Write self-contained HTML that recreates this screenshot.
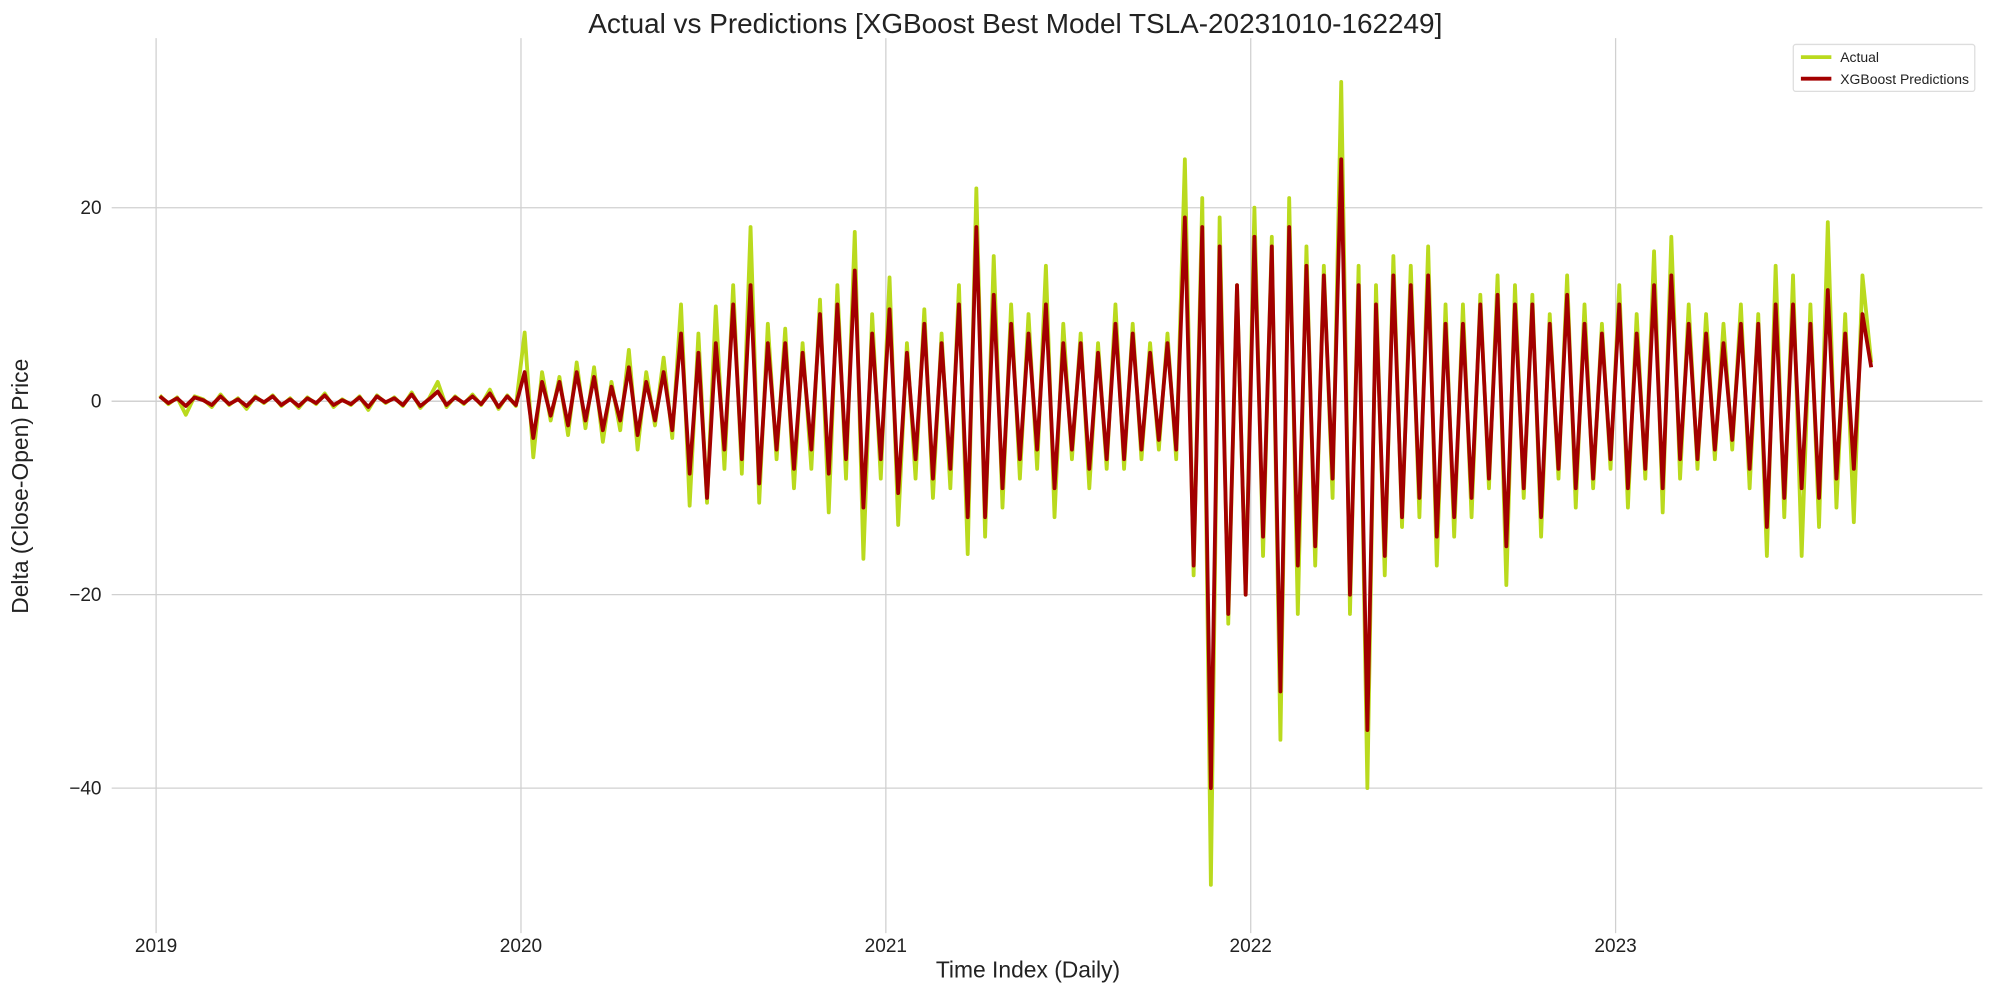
<!DOCTYPE html>
<html><head><meta charset="utf-8"><style>
html,body{margin:0;padding:0;background:#fff;}
svg{display:block;font-family:"Liberation Sans",sans-serif;}
</style></head><body>
<svg id="chart" width="1990" height="989" viewBox="0 0 1568 779" preserveAspectRatio="none">
<text x="800" y="26" font-size="22" text-anchor="middle" fill="#222">Actual vs Predictions [XGBoost Best Model TSLA-20231010-162249]</text>
<text x="810" y="770" font-size="18" text-anchor="middle" fill="#222">Time Index (Daily)</text>
<text transform="translate(22,383) rotate(-90)" font-size="18" text-anchor="middle" fill="#222">Delta (Close-Open) Price</text>
<g id="grid"></g><g id="ticks"></g><g id="series"></g>
<g>
<rect x="1413" y="35" width="143" height="37" fill="#fff" stroke="#ddd" rx="2"/>
<line x1="1419" y1="45" x2="1443" y2="45" stroke="#bada1e" stroke-width="3"/>
<text x="1450" y="49" font-size="11" fill="#222">Actual</text>
<line x1="1419" y1="62" x2="1443" y2="62" stroke="#a30000" stroke-width="3"/>
<text x="1450" y="66" font-size="11" fill="#222">XGBoost Predictions</text>
</g>
</svg>
<script>
const yearTicks=[2019,2020,2021,2022,2023];
const yTicks=[-40,-20,0,20];
const startYear=2019.01;
const pointsPerYear=42;
const actual=[0.6,-0.3,0.4,-1.4,0.5,0.2,-0.6,0.7,-0.4,0.3,-0.8,0.5,-0.2,0.6,-0.5,0.3,-0.7,0.4,-0.3,0.8,-0.6,0.2,-0.4,0.5,-0.9,0.6,-0.2,0.4,-0.5,0.9,-0.7,0.3,2.0,-0.6,0.5,-0.3,0.7,-0.4,1.2,-0.8,0.6,-0.5,
7.1,-5.8,3,-2,2.5,-3.5,4,-2.8,3.5,-4.2,2,-3,5.3,-5,3,-2.5,4.5,-3.8,10,-10.8,7,-10.5,9.8,-7,12,-7.5,18,-10.5,8,-6,7.5,-9,6,-7,10.5,-11.5,12,-8,17.5,-16.3,9,-8,
12.8,-12.8,6,-8,9.5,-10,7,-9,12,-15.8,22,-14,15,-11,10,-8,9,-7,14,-12,8,-6,7,-9,6,-7,10,-7,8,-6,6,-5,7,-6,25,-18,21,-50,19,-23,12,-20,
20,-16,17,-35,21,-22,16,-17,14,-10,33,-22,14,-40,12,-18,15,-13,14,-12,16,-17,10,-14,10,-12,11,-9,13,-19,12,-10,11,-14,9,-8,13,-11,10,-9,8,-7,
12,-11,9,-8,15.5,-11.5,17,-8,10,-7,9,-6,8,-5,10,-9,9,-16,14,-12,13,-16,10,-13,18.5,-11,9,-12.5,13,4];
const predicted=[0.5,-0.2,0.3,-0.5,0.4,0.1,-0.4,0.5,-0.3,0.2,-0.5,0.4,-0.1,0.5,-0.4,0.2,-0.5,0.3,-0.2,0.6,-0.4,0.1,-0.3,0.4,-0.6,0.5,-0.1,0.3,-0.4,0.7,-0.5,0.2,1.0,-0.4,0.4,-0.2,0.5,-0.3,0.8,-0.6,0.5,-0.4,
3.0,-3.8,2,-1.5,2.0,-2.5,3,-2.0,2.5,-3.0,1.5,-2,3.5,-3.5,2,-2,3.0,-3.0,7,-7.5,5,-10,6,-5,10,-6,12,-8.5,6,-5,6,-7,5,-5,9,-7.5,10,-6,13.5,-11,7,-6,
9.5,-9.5,5,-6,8,-8,6,-7,10,-12,18,-12,11,-9,8,-6,7,-5,10,-9,6,-5,6,-7,5,-6,8,-6,7,-5,5,-4,6,-5,19,-17,18,-40,16,-22,12,-20,
17,-14,16,-30,18,-17,14,-15,13,-8,25,-20,12,-34,10,-16,13,-12,12,-10,13,-14,8,-12,8,-10,10,-8,11,-15,10,-9,10,-12,8,-7,11,-9,8,-8,7,-6,
10,-9,7,-7,12,-9,13,-6,8,-6,7,-5,6,-4,8,-7,8,-13,10,-10,10,-9,8,-10,11.5,-8,7,-7,9,3.5];

const NS="http://www.w3.org/2000/svg";
function xs(t){return 123+(t-2019)*287.5;}
function ys(v){return 316-v*7.62;}
const grid=document.getElementById('grid'),ticks=document.getElementById('ticks'),series=document.getElementById('series');
yTicks.concat([0]).forEach(function(v){
  const l=document.createElementNS(NS,'line');
  
  
  l.setAttribute('x1',88);l.setAttribute('x2',1562);l.setAttribute('y1',ys(v));l.setAttribute('y2',ys(v));
  l.setAttribute('stroke','#d0d0d0');l.setAttribute('stroke-width','1');grid.appendChild(l);
});
yTicks.forEach(function(v){
  const t=document.createElementNS(NS,'text');
  
  
  t.setAttribute('x',80);t.setAttribute('y',ys(v)+5);t.setAttribute('text-anchor','end');t.setAttribute('font-size','15');t.setAttribute('fill','#222');
  t.textContent=v<0?'\u2212'+Math.abs(v):String(v);ticks.appendChild(t);
});
yearTicks.forEach(function(y){
  const l=document.createElementNS(NS,'line');
  
  
  l.setAttribute('x1',xs(y));l.setAttribute('x2',xs(y));l.setAttribute('y1',30);l.setAttribute('y2',735);
  l.setAttribute('stroke','#d0d0d0');l.setAttribute('stroke-width','1');grid.appendChild(l);
  const t=document.createElementNS(NS,'text');
  
  
  t.setAttribute('x',xs(y));t.setAttribute('y',750);t.setAttribute('text-anchor','middle');t.setAttribute('font-size','15');t.setAttribute('fill','#222');
  t.textContent=String(y);ticks.appendChild(t);
});
function drawLine(vals,color,name){
  const p=document.createElementNS(NS,'polyline');
  
  
  p.setAttribute('points',vals.map(function(v,i){return xs(startYear+i/pointsPerYear).toFixed(1)+','+ys(v).toFixed(1);}).join(' '));
  p.setAttribute('fill','none');p.setAttribute('stroke',color);p.setAttribute('stroke-width','3');p.setAttribute('stroke-linejoin','round');
  series.appendChild(p);
}
drawLine(actual,'#bada1e','actual-line');
drawLine(predicted,'#a30000','predictions-line');
</script>
</body></html>
